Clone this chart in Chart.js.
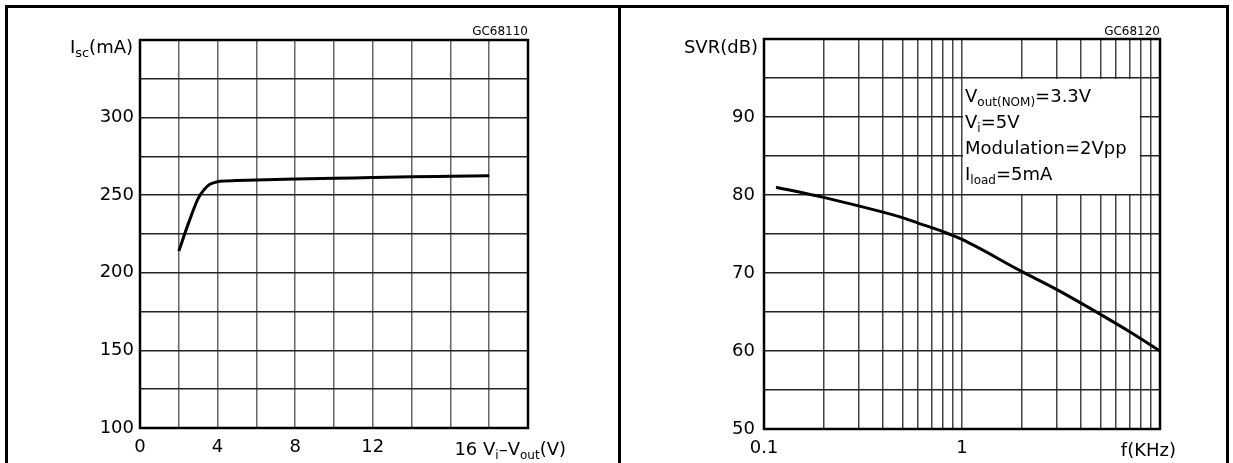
<!DOCTYPE html>
<html>
<head>
<meta charset="utf-8">
<script src="https://cdn.jsdelivr.net/npm/chart.js@4"></script>
<style>
body { margin: 0; background: #fff; }
#wrap { position: relative; width: 1233px; height: 463px; overflow: hidden; }
.box { position: absolute; top: 0; height: 463px; }
.frame { position: absolute; background: #000; }
</style>
</head>
<body>
<div id="wrap">
  <div class="box" style="left:0;width:620px"><canvas id="chart1" width="620" height="463"></canvas></div>
  <div class="box" style="left:620px;width:613px"><canvas id="chart2" width="613" height="463"></canvas></div>
  <div class="frame" style="left:5px;top:5px;width:1224px;height:3px"></div>
  <div class="frame" style="left:5px;top:5px;width:3px;height:458px"></div>
  <div class="frame" style="left:618px;top:5px;width:3px;height:458px"></div>
  <div class="frame" style="left:1226px;top:5px;width:3px;height:458px"></div>
</div>
<script>
// Data

// left: short circuit current vs dropout
const iscDrop = [2, 2.5, 3, 3.3, 3.6, 4, 5, 6, 8, 10, 12, 14, 16, 18];
const iscCurrent = [214, 232, 248, 253.5, 257, 258.7, 259.4, 259.8, 260.4, 260.9, 261.4, 261.9, 262.2, 262.5];
const iscXLabels = [0, 4, 8, 12, 16];
const iscYLabels = [100, 150, 200, 250, 300];

// right: SVR vs frequency
const svrFreq = [0.115, 0.2, 0.3, 0.5, 0.6, 0.8, 1, 2, 3, 5, 7, 10];
const svrDb = [81, 79.7, 78.6, 77.1, 76.4, 75.3, 74.3, 70.2, 67.9, 64.7, 62.5, 60];
const svrFreqGrid = [0.1, 0.2, 0.3, 0.4, 0.5, 0.6, 0.7, 0.8, 0.9, 1, 2, 3, 4, 5, 6, 7, 8, 9, 10];
const svrXLabels = [0.1, 1];
const svrYLabels = [50, 60, 70, 80, 90];
const svrNotes = [
  [["V", 0], ["out(NOM)", 1], ["=3.3V", 0]],
  [["V", 0], ["i", 1], ["=5V", 0]],
  [["Modulation=2Vpp", 0]],
  [["I", 0], ["load", 1], ["=5mA", 0]],
];

const FONT = '"DejaVu Sans", sans-serif';

// Helpers

function drawRich(ctx, parts, x, y, align, size, subSize) {
  const big = size + "px " + FONT;
  const small = (subSize || Math.round(size * 0.72)) + "px " + FONT;
  let w = 0;
  parts.forEach(p => {
    ctx.font = p[1] ? small : big;
    w += ctx.measureText(p[0]).width;
  });
  let cx = align === "right" ? x - w : x;
  ctx.textAlign = "left";
  ctx.textBaseline = "alphabetic";
  ctx.fillStyle = "#000";
  parts.forEach(p => {
    ctx.font = p[1] ? small : big;
    ctx.fillText(p[0], cx, p[1] ? y + size * 0.22 : y);
    cx += ctx.measureText(p[0]).width;
  });
}

function frameBox(chart) {
  const a = chart.chartArea;
  const ctx = chart.ctx;
  ctx.save();
  ctx.strokeStyle = "#000";
  ctx.lineWidth = 2.5;
  ctx.strokeRect(a.left, a.top, a.right - a.left, a.bottom - a.top);
  ctx.restore();
}

const lastIscLabel = iscXLabels[iscXLabels.length - 1];

const decorLeft = {
  id: "decorLeft",
  afterDraw(chart) {
    const ctx = chart.ctx;
    const a = chart.chartArea;
    frameBox(chart);
    ctx.save();
    drawRich(ctx, [["I", 0], ["sc", 1], ["(mA)", 0]], a.left - 7, a.top + 13, "right", 18);
    ctx.font = "12px " + FONT;
    ctx.textAlign = "right";
    ctx.fillText("GC68110", a.right, a.top - 5);
    // last tick label runs into the axis title
    const px = chart.scales.x.getPixelForValue(lastIscLabel) + 4;
    drawRich(ctx, [[lastIscLabel + " V", 0], ["i", 1], ["\u2013V", 0], ["out", 1], ["(V)", 0]], px, a.bottom + 27, "left", 18, 12);
    ctx.restore();
  }
};

const decorRight = {
  id: "decorRight",
  beforeDatasetsDraw(chart) {
    const ctx = chart.ctx;
    const x = chart.scales.x, y = chart.scales.y;
    const l = x.getPixelForValue(1), r = x.getPixelForValue(8);
    const t = y.getPixelForValue(95), b = y.getPixelForValue(80);
    ctx.save();
    ctx.fillStyle = "#fff";
    ctx.fillRect(l + 1, t + 1, r - l - 2, b - t - 2);
    const offs = [24, 50, 76, 102];
    svrNotes.forEach((line, i) => drawRich(ctx, line, l + 3, t + offs[i], "left", 18, 12));
    ctx.restore();
  },
  afterDraw(chart) {
    const ctx = chart.ctx;
    const a = chart.chartArea;
    frameBox(chart);
    ctx.save();
    drawRich(ctx, [["SVR(dB)", 0]], a.left - 6, a.top + 14, "right", 18);
    ctx.font = "12px " + FONT;
    ctx.textAlign = "right";
    ctx.fillText("GC68120", a.right, a.top - 4);
    drawRich(ctx, [["f(KHz)", 0]], chart.scales.x.getPixelForValue(10) + 16, a.bottom + 27, "right", 18);
    ctx.restore();
  }
};

const tickFont = { family: FONT, size: 18 };

// Left chart

const chart1 = new Chart(document.getElementById("chart1"), {
  type: "line",
  data: {
    datasets: [{
      data: iscDrop.map((v, i) => ({ x: v, y: iscCurrent[i] })),
      borderColor: "#000",
      borderWidth: 3,
      pointRadius: 0,
      cubicInterpolationMode: "monotone",
      fill: false,
    }],
  },
  options: {
    responsive: false,
    animation: false,
    layout: { padding: { left: 0, right: 92, top: 40, bottom: 0 } },
    plugins: { legend: { display: false }, tooltip: { enabled: false } },
    scales: {
      x: {
        type: "linear", min: 0, max: 20,
        afterFit: s => { s.height = 35; },
        ticks: {
          stepSize: 2, autoSkip: false, maxRotation: 0, padding: 9,
          color: "#000", font: tickFont,
          callback: v => (iscXLabels.includes(v) && v !== lastIscLabel ? String(v) : ""),
        },
        grid: { color: "#666", lineWidth: 1.5, drawTicks: false },
        border: { display: false },
      },
      y: {
        min: 100, max: 350,
        afterFit: s => { s.width = 140; },
        ticks: {
          stepSize: 25, autoSkip: false, padding: 6,
          color: "#000", font: tickFont,
          callback: v => (iscYLabels.includes(v) ? String(v) : ""),
        },
        grid: { color: "#222", lineWidth: 1.5, drawTicks: false },
        border: { display: false },
      },
    },
  },
  plugins: [decorLeft],
});

// Right chart

const chart2 = new Chart(document.getElementById("chart2"), {
  type: "line",
  data: {
    datasets: [{
      data: svrFreq.map((v, i) => ({ x: v, y: svrDb[i] })),
      borderColor: "#000",
      borderWidth: 3,
      pointRadius: 0,
      cubicInterpolationMode: "monotone",
      fill: false,
    }],
  },
  options: {
    responsive: false,
    animation: false,
    layout: { padding: { left: 0, right: 73, top: 39, bottom: 0 } },
    plugins: { legend: { display: false }, tooltip: { enabled: false } },
    scales: {
      x: {
        type: "logarithmic", min: 0.1, max: 10,
        afterBuildTicks: s => { s.ticks = svrFreqGrid.map(v => ({ value: v })); },
        afterFit: s => { s.height = 34; },
        ticks: {
          autoSkip: false, maxRotation: 0, padding: 9,
          color: "#000", font: tickFont,
          callback: v => (svrXLabels.includes(v) ? String(v) : ""),
        },
        grid: { color: "#444", lineWidth: 1.5, drawTicks: false },
        border: { display: false },
      },
      y: {
        min: 50, max: 100,
        afterFit: s => { s.width = 144; },
        ticks: {
          stepSize: 5, autoSkip: false, padding: 9,
          color: "#000", font: tickFont,
          callback: v => (svrYLabels.includes(v) ? String(v) : ""),
        },
        grid: { color: "#222", lineWidth: 1.5, drawTicks: false },
        border: { display: false },
      },
    },
  },
  plugins: [decorRight],
});
</script>
</body>
</html>
